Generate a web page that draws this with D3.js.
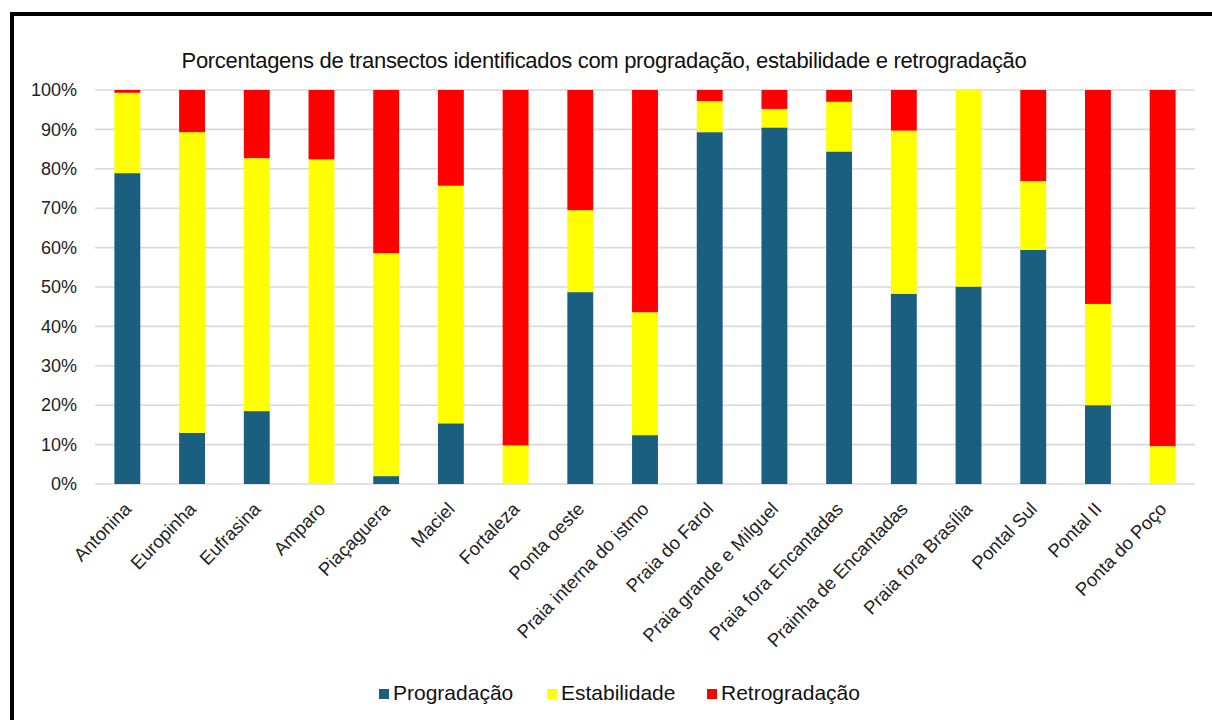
<!DOCTYPE html>
<html><head><meta charset="utf-8">
<script src="https://cdn.jsdelivr.net/npm/d3@7"></script>
<style>body{margin:0;background:#fff}svg{display:block;font-family:"Liberation Sans",Arial,sans-serif}</style>
</head><body><svg id="c" width="1212" height="720"></svg>
<script>
const categories = ["Antonina","Europinha","Eufrasina","Amparo","Piaçaguera","Maciel","Fortaleza","Ponta oeste","Praia interna do istmo","Praia do Farol","Praia grande e Milguel","Praia fora Encantadas","Prainha de Encantadas","Praia fora Brasília","Pontal Sul","Pontal II","Ponta do Poço"];
const progradacao   = [78.9, 13.0, 18.5, 0, 2.0, 15.4, 0, 48.7, 12.4, 89.3, 90.5, 84.4, 48.3, 50.1, 59.4, 20.0, 0];
const estabilidade  = [20.4, 76.3, 64.2, 82.4, 56.6, 60.3, 9.8, 20.8, 31.2, 7.9, 4.7, 12.6, 41.4, 49.9, 17.5, 25.7, 9.6];
const retrogradacao = [0.7, 10.7, 17.3, 17.6, 41.4, 24.3, 90.2, 30.5, 56.4, 2.8, 4.8, 3.0, 10.3, 0, 23.1, 54.3, 90.4];
const seriesNames = ["Progradação","Estabilidade","Retrogradação"];
const colors = ["#1a5e80","#ffff00","#ff0000"];
const yTicks = [0,10,20,30,40,50,60,70,80,90,100];
const title = "Porcentagens de transectos identificados com progradação, estabilidade e retrogradação";

const svg = d3.select("#c");
const m = {left:95, right:1195, top:90, bottom:484};
const x = d3.scaleBand().domain(categories).range([m.left,m.right]).paddingInner(0.6).paddingOuter(0.3);
const y = d3.scaleLinear().domain([0,100]).range([m.bottom,m.top]);

// border
svg.append("rect").attr("x",12).attr("y",14).attr("width",1260).attr("height",760)
  .attr("fill","none").attr("stroke","#000").attr("stroke-width",4);

// title
svg.append("text").attr("x",604).attr("y",68).attr("text-anchor","middle")
  .attr("font-size",22).attr("letter-spacing","-0.3").attr("fill","#111").text(title);

// gridlines
svg.append("g").selectAll("line").data(yTicks).join("line")
  .attr("x1",m.left).attr("x2",m.right).attr("y1",d=>y(d)).attr("y2",d=>y(d))
  .attr("stroke","#d9d9d9").attr("stroke-width",1.6);

// y axis
const ya = svg.append("g").attr("transform",`translate(${m.left},0)`)
  .call(d3.axisLeft(y).tickValues(yTicks).tickFormat(d=>d+"%").tickSize(0).tickPadding(18));
ya.select(".domain").remove();
ya.selectAll("text").attr("font-size",18).attr("fill","#222").attr("font-family","Liberation Sans, Arial, sans-serif");

// stacked bars
const data = categories.map((c,i)=>({cat:c, p:progradacao[i], e:estabilidade[i], r:retrogradacao[i]}));
const stack = d3.stack().keys(["p","e","r"])(data);
svg.append("g").selectAll("g").data(stack).join("g").attr("fill",(d,i)=>colors[i])
  .selectAll("rect").data(d=>d).join("rect")
  .attr("x",d=>x(d.data.cat)).attr("width",x.bandwidth())
  .attr("y",d=>y(d[1])).attr("height",d=>Math.max(0,y(d[0])-y(d[1])));

// x axis
const xa = svg.append("g").attr("transform",`translate(0,${m.bottom})`)
  .call(d3.axisBottom(x).tickSize(0).tickPadding(0));
xa.select(".domain").remove();
xa.selectAll("text").attr("font-size",18.5).attr("fill","#222").attr("font-family","Liberation Sans, Arial, sans-serif")
  .attr("text-anchor","end").attr("dy",0)
  .attr("transform","translate(5,26) rotate(-46)");

// legend
const leg = svg.append("g").attr("transform","translate(0,700)");
const lx = [379, 547, 707];
seriesNames.forEach((n,i)=>{
  leg.append("rect").attr("x",lx[i]).attr("y",-11).attr("width",10).attr("height",10).attr("fill",colors[i]);
  leg.append("text").attr("x",lx[i]+14).attr("y",0).attr("font-size",21).attr("fill","#111").text(n);
});
</script></body></html>
